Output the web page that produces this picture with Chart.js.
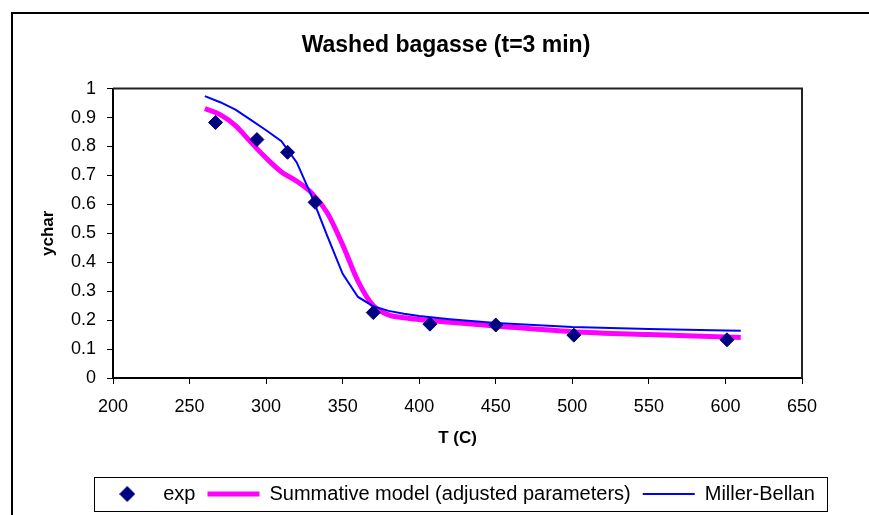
<!DOCTYPE html>
<html>
<head>
<meta charset="utf-8">
<script src="https://cdn.jsdelivr.net/npm/chart.js@4"></script>
<style>
    html, body { margin: 0; padding: 0; background: #fff; }
    #wrap { position: relative; width: 869px; height: 515px; overflow: hidden; }
    #frame { position: absolute; left: 11px; top: 12px; width: 900px; height: 600px;
             border-top: 2px solid #000; border-left: 2px solid #000; pointer-events: none; }
</style>
</head>
<body>
<div id="wrap">
    <canvas id="chart" width="869" height="515"></canvas>
    <div id="frame"></div>
</div>
<script>
// Washed bagasse, t = 3 min

// experimental points
const expT = [267, 294, 314, 332, 370, 407, 450, 501, 601];
const expY = [0.883, 0.824, 0.780, 0.607, 0.226, 0.186, 0.183, 0.148, 0.132];

// model curves (same temperature grid)
const modelT = [260, 270, 280, 290, 300, 310, 320, 330, 340, 350, 360, 370, 380, 390, 400,
                420, 450, 500, 550, 600, 610];
const summativeY = [0.931, 0.910, 0.872, 0.815, 0.760, 0.712, 0.680, 0.638, 0.570, 0.460, 0.335, 0.250, 0.218, 0.208, 0.202,
                    0.193, 0.180, 0.160, 0.150, 0.142, 0.140];
const millerY = [0.974, 0.953, 0.927, 0.892, 0.856, 0.818, 0.745, 0.625, 0.490, 0.360, 0.280, 0.248, 0.232, 0.222, 0.214,
                 0.203, 0.190, 0.176, 0.169, 0.164, 0.163];

const xTicks = [200, 250, 300, 350, 400, 450, 500, 550, 600, 650];
const yTicks = [0, 0.1, 0.2, 0.3, 0.4, 0.5, 0.6, 0.7, 0.8, 0.9, 1];

const FONT = 'Arial, "Liberation Sans", sans-serif';
const LEGEND_CENTER = 458;
const TITLE_CENTER = 446;

const toPts = (xs, ys) => xs.map((x, i) => ({ x: x, y: ys[i] }));

// small diamond for the legend (rectRot would get stretched by pointStyleWidth)
function diamondIcon(r, color) {
    const c = document.createElement('canvas');
    c.width = c.height = 2 * r;
    const g = c.getContext('2d');
    g.fillStyle = color;
    g.beginPath();
    g.moveTo(r, 0);
    g.lineTo(2 * r, r);
    g.lineTo(r, 2 * r);
    g.lineTo(0, r);
    g.closePath();
    g.fill();
    return c;
}
const expIcon = diamondIcon(8, '#000080');

// box on top/right of plot area
const plotFrame = {
    id: 'plotFrame',
    beforeDatasetsDraw(chart) {
        const { ctx, chartArea: a } = chart;
        ctx.save();
        ctx.strokeStyle = '#222';
        ctx.lineWidth = 2;
        ctx.beginPath();
        ctx.moveTo(a.left, a.top);
        ctx.lineTo(a.right, a.top);
        ctx.lineTo(a.right, a.bottom);
        ctx.stroke();
        ctx.restore();
    }
};

// move title and legend to where the original has them, then frame the legend
const placeBoxes = {
    id: 'placeBoxes',
    beforeDraw(chart) {
        const tb = chart.titleBlock;
        if (tb) {
            const d = TITLE_CENTER - (tb.left + tb.right) / 2;
            tb.left += d;
            tb.right += d;
        }
        const lg = chart.legend;
        if (!lg || !lg.legendHitBoxes.length) return;
        const hb = lg.legendHitBoxes;
        const l = Math.min(...hb.map(b => b.left));
        const r = Math.max(...hb.map(b => b.left + b.width));
        const dx = LEGEND_CENTER - (l + r) / 2;
        lg.left += dx;
        lg.right += dx;
        hb.forEach(b => { b.left += dx; });
    },
    afterDraw(chart) {
        const hb = chart.legend.legendHitBoxes;
        if (!hb.length) return;
        const l = Math.min(...hb.map(b => b.left)) - 7;
        const r = Math.max(...hb.map(b => b.left + b.width)) + 12;
        const t = Math.min(...hb.map(b => b.top)) - 7;
        const btm = Math.max(...hb.map(b => b.top + b.height)) + 7;
        const ctx = chart.ctx;
        ctx.save();
        ctx.strokeStyle = '#000';
        ctx.lineWidth = 1;
        ctx.strokeRect(Math.round(l) + 0.5, Math.round(t) + 0.5, Math.round(r - l), Math.round(btm - t));
        ctx.restore();
    }
};

new Chart(document.getElementById('chart'), {
    type: 'scatter',
    data: {
        datasets: [
            {
                label: 'exp',
                data: toPts(expT, expY),
                pointStyle: 'rectRot',
                pointRadius: 7,
                pointHoverRadius: 7,
                pointBackgroundColor: '#000080',
                pointBorderColor: '#000080',
                pointBorderWidth: 1,
                showLine: false,
                order: 0
            },
            {
                label: 'Summative model (adjusted parameters)',
                data: toPts(modelT, summativeY),
                showLine: true,
                borderColor: '#FF00FF',
                backgroundColor: '#FF00FF',
                borderWidth: 5,
                cubicInterpolationMode: 'monotone',
                pointRadius: 0,
                pointStyle: 'line',
                pointBorderColor: '#FF00FF',
                pointBorderWidth: 5,
                order: 2
            },
            {
                label: 'Miller-Bellan',
                data: toPts(modelT, millerY),
                showLine: true,
                borderColor: '#0000FF',
                backgroundColor: '#0000FF',
                borderWidth: 2,
                tension: 0,
                pointRadius: 0,
                pointStyle: 'line',
                pointBorderColor: '#0000FF',
                pointBorderWidth: 2,
                order: 1
            }
        ]
    },
    options: {
        responsive: false,
        animation: false,
        layout: { padding: { left: 30, right: 67, top: 0, bottom: 1 } },
        plugins: {
            title: {
                display: true,
                text: 'Washed bagasse (t=3 min)',
                color: '#000',
                font: { family: FONT, size: 23, weight: 'bold' },
                padding: { top: 32, bottom: 29 }
            },
            legend: {
                position: 'bottom',
                labels: {
                    usePointStyle: true,
                    pointStyleWidth: 52,
                    boxHeight: 11,
                    padding: 12,
                    color: '#000',
                    font: { family: FONT, size: 20 },
                    sort: (a, b) => a.datasetIndex - b.datasetIndex,
                    generateLabels: chart => {
                        const items = Chart.defaults.plugins.legend.labels.generateLabels(chart);
                        items.forEach(it => { if (it.datasetIndex === 0) it.pointStyle = expIcon; });
                        return items;
                    }
                }
            },
            tooltip: { enabled: false }
        },
        scales: {
            x: {
                type: 'linear',
                min: xTicks[0],
                max: xTicks[xTicks.length - 1],
                afterBuildTicks: s => { s.ticks = xTicks.map(v => ({ value: v })); },
                afterFit: s => { s.height = 94; },
                border: { display: true, color: '#000', width: 2 },
                grid: { display: true, drawOnChartArea: false, drawTicks: true, tickLength: 6, color: '#000', tickWidth: 1 },
                ticks: { color: '#000', font: { family: FONT, size: 18 }, padding: 12, maxRotation: 0 },
                title: {
                    display: true,
                    text: 'T (C)',
                    color: '#000',
                    font: { family: FONT, size: 17, weight: 'bold' },
                    padding: { top: 0, bottom: 23 }
                }
            },
            y: {
                type: 'linear',
                min: 0,
                max: 1,
                afterBuildTicks: s => { s.ticks = yTicks.map(v => ({ value: v })); },
                afterFit: s => { s.width = 83; },
                border: { display: true, color: '#000', width: 2 },
                grid: { display: true, drawOnChartArea: false, drawTicks: true, tickLength: 6, color: '#000', tickWidth: 1 },
                ticks: {
                    color: '#000',
                    font: { family: FONT, size: 18 },
                    padding: 11,
                    callback: v => String(+v.toFixed(1))
                },
                title: {
                    display: true,
                    text: 'ychar',
                    color: '#000',
                    font: { family: FONT, size: 17, weight: 'bold' },
                    padding: { top: 8, bottom: 0 }
                }
            }
        }
    },
    plugins: [plotFrame, placeBoxes]
});
</script>
</body>
</html>
